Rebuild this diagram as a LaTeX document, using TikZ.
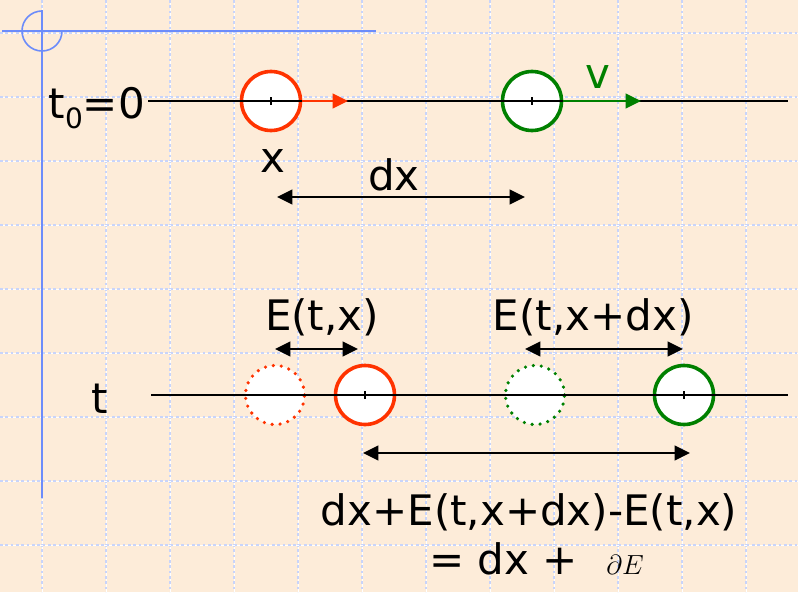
\documentclass[tikz,border=0pt]{standalone}
\usepackage{fontspec}
\setmainfont{DejaVu Sans}
\usetikzlibrary{arrows.meta,calc,positioning}
\definecolor{slidebg}{RGB}{253,236,217}
\definecolor{gridblue}{RGB}{200,212,250}
\definecolor{markblue}{RGB}{108,140,250}
\definecolor{partred}{RGB}{255,51,0}
\definecolor{partgreen}{RGB}{0,128,0}
\tikzset{
  gridline/.style={line width=1.2pt, draw=gridblue, dash pattern=on 2pt off 2pt, preaction={draw=white, solid}},
  ball/.style={circle, draw=#1, line width=2.7pt, fill=white, minimum size=44.25pt, inner sep=0pt},
  ghost/.style={circle, draw=#1, line width=2.7pt, dash pattern=on 0pt off 6pt, line cap=round, fill=white, minimum size=44.25pt, inner sep=0pt},
  axis/.style={line width=1.3pt},
  span/.style={line width=1.5pt, {Triangle[length=11.5pt,width=11pt]}-{Triangle[length=11.5pt,width=11pt]}},
  push/.style={draw=#1, line width=1.6pt, -{Triangle[length=11.5pt,width=11pt]}},
  lbl/.style={font=\fontsize{31.5}{36}\selectfont, inner sep=0pt, anchor=base}
}

\begin{document}
\begin{tikzpicture}[x=0.75pt, y=-0.75pt]
		\fill[slidebg] (0,0) rectangle (798,592);
		\useasboundingbox (0,0) rectangle (798,592);
		\foreach \gx in {0,...,11} \draw[gridline] ({42+64*\gx},0) -- ({42+64*\gx},592);
		\foreach \gy in {0,...,8} \draw[gridline] (0,{33+64*\gy}) -- (798,{33+64*\gy});
		\draw[markblue, line width=1.5pt] (2,31) -- (376,31);
		\draw[markblue, line width=1.5pt] (42,10) -- (42,498);
		\draw[markblue, line width=1.2pt] (62,31) arc[start angle=0, end angle=270, radius=20];
		\node[ball=partred] (x0) at (271,101) {};
		\node[ball=partgreen] (xd0) at (532,101) {};
		\node[ghost=partred] (x0g) at (275,395) {};
		\node[ball=partred] (xt) at (365,395) {};
		\node[ghost=partgreen] (xd0g) at (535,395) {};
		\node[ball=partgreen] (xdt) at (684,395) {};
		\coordinate (topL) at (148,101);
		\coordinate (topR) at (788,101);
		\coordinate (botL) at (151,395);
		\coordinate (botR) at (788,395);
		\draw[axis] (topL) -- (topR);
		\draw[axis] (botL) -- (botR);
		\foreach \b in {x0,xd0,xt,xdt} \draw[line width=1.1pt] ([yshift=3pt]\b.center) -- ([yshift=-3pt]\b.center);
		\coordinate (vx) at (348,101);
		\coordinate (vxd) at (641,101);
		\draw[push=partred] (x0.east) -- (vx);
		\draw[push=partgreen] (xd0.east) -- (vxd);
		\node[lbl, anchor=base east] (t0) at (145,118) {t\raisebox{-7.5pt}{\fontsize{21}{21}\selectfont 0}=0};
		\node[lbl, text=partgreen] (vlab) at (598,88) {v};
		\node[lbl] (xlab) at (273,172) {x};
		\node[lbl] (dxlab) at (394,190) {dx};
		\coordinate (dxL) at (277,197);
		\coordinate (dxR) at (525,197);
		\draw[span] (dxL) -- (dxR);
		\node[lbl] (tlab) at (100,413) {t};
		\node[lbl] (ex) at (322,330) {E(t,x)};
		\node[lbl] (exd) at (593,330) {E(t,x+dx)};
		\coordinate (exL) at (275,349);
		\coordinate (exR) at (358,349);
		\coordinate (exdL) at (525,349);
		\coordinate (exdR) at (683,349);
		\draw[span] (exL) -- (exR);
		\draw[span] (exdL) -- (exdR);
		\coordinate (lenL) at (363,453);
		\coordinate (lenR) at (690,453);
		\draw[span] (lenL) -- (lenR);
		\node[lbl] (sum) at (529,525) {dx+E(t,x+dx)-E(t,x)};
		\node[lbl, anchor=base east] (eq) at (578,574) {= dx +};
		\node[anchor=base west, inner sep=0pt, font=\fontsize{20}{22}\selectfont] (pd) at (606,574) {$\partial E$};
	\end{tikzpicture}
\end{document}
